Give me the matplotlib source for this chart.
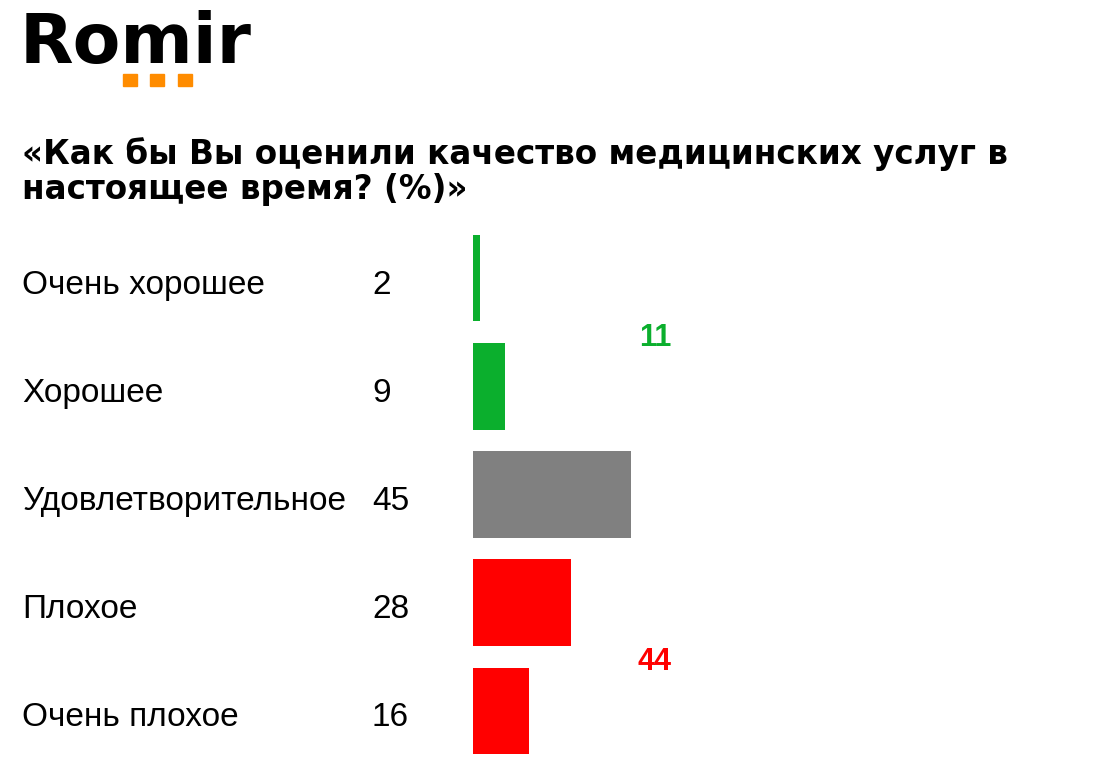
import matplotlib.pyplot as plt
import matplotlib.transforms as mtransforms
from matplotlib.patches import Rectangle

plt.rcParams['font.family'] = ['Liberation Sans', 'DejaVu Sans']

# data
categories = ["Очень хорошее", "Хорошее", "Удовлетворительное", "Плохое", "Очень плохое"]
values = [2, 9, 45, 28, 16]
colors = ["#0BAF2D", "#0BAF2D", "#808080", "#FF0000", "#FF0000"]
totals = [11, 44]
total_pos = [0.55, 3.55]
total_colors = ["#0BAF2D", "#FF0000"]
title_lines = ["«Как бы Вы оценили качество медицинских услуг в", "настоящее время? (%)»"]

W, H = 1103, 769
fig = plt.figure(figsize=(W / 100, H / 100), dpi=100)

def fx(px):
    return px / W

def fy(py):
    return 1 - py / H

# bars area: x 473..823 px (0..100), y 224..765 px
ax = fig.add_axes([fx(473), fy(765), fx(823) - fx(473), fy(224) - fy(765)])
ypos = list(range(len(categories)))
ax.barh(ypos, values, height=0.8, color=colors)
ax.set_xlim(0, 100)
ax.set_ylim(len(categories) - 0.5, -0.5)
ax.axis("off")

# category labels and values on the left, baseline a bit below bar centre
tr = mtransforms.blended_transform_factory(fig.transFigure, ax.transData)
tr = mtransforms.offset_copy(tr, fig=fig, y=-15.5, units="dots")
for i, (cat, v) in enumerate(zip(categories, values)):
    ax.text(fx(22), i, cat, transform=tr, fontsize=24, va="baseline", ha="left")
    ax.text(fx(372), i, str(v), transform=tr, fontsize=24, va="baseline", ha="left")

# group totals
for t, p, c in zip(totals, total_pos, total_colors):
    ax.text(52, p, str(t), fontsize=22, fontweight="bold", color=c, ha="center", va="center")

# title
for line, base in zip(title_lines, [164, 199]):
    fig.text(fx(22), fy(base), line, fontsize=23.5, fontweight="bold", family="DejaVu Sans",
             ha="left", va="baseline")

# logo
fig.text(fx(20), fy(63), "Romir", fontsize=50, fontweight="bold", family="DejaVu Sans",
         ha="left", va="baseline")
for sx in [123, 150, 178]:
    fig.patches.append(Rectangle((fx(sx), fy(86)), fx(14), 12 / H, transform=fig.transFigure,
                                 color="#FF8C00"))

fig.savefig("out.png", dpi=100)
